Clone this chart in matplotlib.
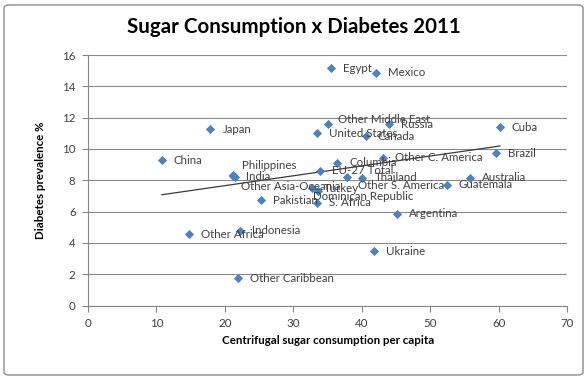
import matplotlib.pyplot as plt
import numpy as np
from matplotlib.patches import FancyBboxPatch

# values
countries = [
    "Egypt", "Mexico", "Japan", "Other Middle East", "Russia",
    "United States", "Canada", "Cuba", "China", "Brazil",
    "Columbia", "Other C. America", "EU-27 Total", "Thailand",
    "Other S. America", "Philippines", "India", "Other Asia-Oceania",
    "Turkey", "Dominican Republic", "Australia", "Guatemala",
    "Pakistian", "S. Africa", "Argentina", "Other Africa",
    "Indonesia", "Ukraine", "Other Caribbean",
]
sugar = [
    35.5, 42.1, 17.9, 35.1, 44.0,
    33.4, 40.6, 60.2, 10.8, 59.6,
    36.4, 43.1, 33.9, 40.1,
    37.8, 21.2, 21.5, 21.2,
    32.7, 33.6, 55.8, 52.4,
    25.3, 33.5, 45.2, 14.8,
    22.2, 41.8, 21.9,
]
diabetes = [
    15.16, 14.88, 11.25, 11.57, 11.57,
    10.99, 10.82, 11.38, 9.28, 9.71,
    9.13, 9.44, 8.60, 8.15,
    8.22, 8.33, 8.22, 8.26,
    7.50, 7.34, 8.15, 7.72,
    6.72, 6.55, 5.85, 4.56,
    4.78, 3.45, 1.74,
]

x_ticks = list(range(0, 71, 10))
y_ticks = list(range(0, 17, 2))

# labels that were dragged by hand in the original (pixels, +dy = down)
label_nudge = {
    "Philippines": (9, -10),
    "India": (11, 0),
    "Other Asia-Oceania": (8, 10),
    "Other S. America": (11, 9),
    "Dominican Republic": (-5, 6),
    "Other Middle East": (10, -5),
}

FONT = ["Lato", "DejaVu Sans"]
BLUE = "#4F81BD"
TXT = "#404040"
AXC = "#868686"

W, H = 588, 379
fig = plt.figure(figsize=(W / 100, H / 100), dpi=100)

# chart frame
fig.patches.append(FancyBboxPatch(
    (4 / W, 4 / H), (W - 9) / W, (H - 9) / H,
    boxstyle="round,pad=0,rounding_size=0.008",
    transform=fig.transFigure, facecolor="white",
    edgecolor="#8C8C8C", linewidth=1.0, zorder=-1))

left, right, top, bottom = 88, 567, 55, 305.5
ax = fig.add_axes([left / W, 1 - bottom / H, (right - left) / W, (bottom - top) / H])
ax.set_facecolor("none")

ax.scatter(sugar, diabetes, marker="D", s=22, color=BLUE, zorder=3, linewidths=0)

# linear trendline over the data range
fit = np.polyfit(sugar, diabetes, 1)
xs = np.array([min(sugar), max(sugar)])
ax.plot(xs, np.polyval(fit, xs), color="#3a3a3a", lw=0.9, zorder=2)

for name, x, y in zip(countries, sugar, diabetes):
    dx, dy = label_nudge.get(name, (12, 0))
    ax.annotate(name, (x, y), xytext=(dx * 0.72, -dy * 0.72),
                textcoords="offset points", ha="left", va="center",
                fontsize=8.3, color=TXT, family=FONT, zorder=4)

ax.set_xlim(0, 70)
ax.set_ylim(0, 16)
ax.set_xticks(x_ticks)
ax.set_yticks(y_ticks)
ax.grid(axis="y", color="#8a8a8a", lw=0.8)
ax.set_axisbelow(True)
for s in ["top", "right"]:
    ax.spines[s].set_visible(False)
for s in ["left", "bottom"]:
    ax.spines[s].set_color(AXC)
    ax.spines[s].set_linewidth(0.8)
ax.tick_params(direction="out", length=4, width=0.8, colors=AXC,
               labelcolor=TXT, labelsize=8.3, pad=5)
for lab in ax.get_xticklabels() + ax.get_yticklabels():
    lab.set_family(FONT)

fig.text(0.5, 1 - 27 / H, "Sugar Consumption x Diabetes 2011",
         ha="center", va="center", fontsize=14.8, fontweight="bold",
         family=FONT, color="black")
fig.text(40 / W, 1 - 180 / H, "Diabetes prevalence %", rotation=90,
         ha="center", va="center", fontsize=8.3, fontweight="bold",
         family=FONT, color="black")
fig.text(328 / W, 1 - 341 / H, "Centrifugal sugar consumption per capita",
         ha="center", va="center", fontsize=8.3, fontweight="bold",
         family=FONT, color="black")

fig.savefig("out.png", dpi=100)
